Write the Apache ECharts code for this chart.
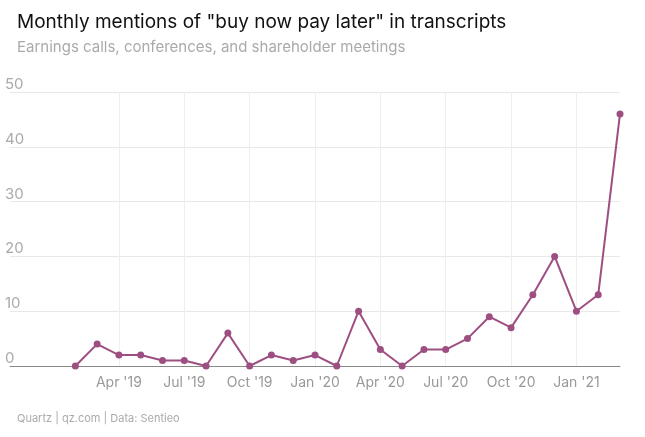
<!DOCTYPE html>
<html>
<head>
<meta charset="utf-8">
<script src="https://cdn.jsdelivr.net/npm/echarts@6/dist/echarts.min.js"></script>
<style>html,body{margin:0;padding:0;background:#fff}#container{width:645px;height:437px}</style>
</head>
<body>
<div id="container"></div>
<script>
var months = ["", "", "",
  "Feb '19", "Mar '19", "Apr '19", "May '19", "Jun '19", "Jul '19", "Aug '19", "Sep '19", "Oct '19",
  "Nov '19", "Dec '19", "Jan '20", "Feb '20", "Mar '20", "Apr '20", "May '20", "Jun '20", "Jul '20",
  "Aug '20", "Sep '20", "Oct '20", "Nov '20", "Dec '20", "Jan '21", "Feb '21", "Mar '21"];
var mentions = [null, null, null,
  0, 4, 2, 2, 1, 1, 0, 6, 0, 2, 1, 2, 0, 10, 3, 0, 3, 3, 5, 9, 7, 13, 20, 10, 13, 46];
var shownLabels = ["Apr '19", "Jul '19", "Oct '19", "Jan '20", "Apr '20", "Jul '20", "Oct '20", "Jan '21"];

var myChart = echarts.init(document.getElementById("container"));
var font = "Inter, 'Noto Sans', sans-serif";

var option = {
  backgroundColor: "#fff",
  title: [
    {
      text: "Monthly mentions of \"buy now pay later\" in transcripts",
      subtext: "Earnings calls, conferences, and shareholder meetings",
      left: 12, top: 8, itemGap: 8,
      textStyle: { fontFamily: font, fontSize: 19, fontWeight: "normal", color: "#111" },
      subtextStyle: { fontFamily: font, fontSize: 15, color: "#aaa" }
    },
    {
      text: "Quartz | qz.com | Data: Sentieo",
      left: 12, bottom: 8,
      textStyle: { fontFamily: font, fontSize: 11, fontWeight: "normal", color: "#aaa" }
    }
  ],
  grid: { left: 10, right: 25, top: 92, bottom: 71 },
  xAxis: {
    type: "category",
    data: months,
    boundaryGap: false,
    axisLine: { lineStyle: { color: "#888" } },
    axisTick: { show: false },
    axisLabel: {
      interval: function (i, v) { return shownLabels.indexOf(v) >= 0; },
      color: "#999", fontFamily: font, fontSize: 14, margin: 10
    },
    splitLine: {
      show: true,
      interval: function (i, v) { return shownLabels.indexOf(v) >= 0; },
      lineStyle: { color: "#eee" }
    }
  },
  yAxis: {
    type: "value",
    min: 0, max: 50, interval: 10,
    axisLine: { show: false },
    axisTick: { show: false },
    axisLabel: {
      inside: true, verticalAlign: "bottom", margin: -5,
      color: "#aaa", fontFamily: font, fontSize: 15
    },
    splitLine: { lineStyle: { color: "#e8e8e8" } }
  },
  series: [
    {
      type: "line",
      data: mentions,
      symbol: "circle",
      symbolSize: 7,
      itemStyle: { color: "#9e4f82" },
      lineStyle: { color: "#9e4f82", width: 2 }
    }
  ]
};

myChart.setOption(option, true);
</script>
</body>
</html>
